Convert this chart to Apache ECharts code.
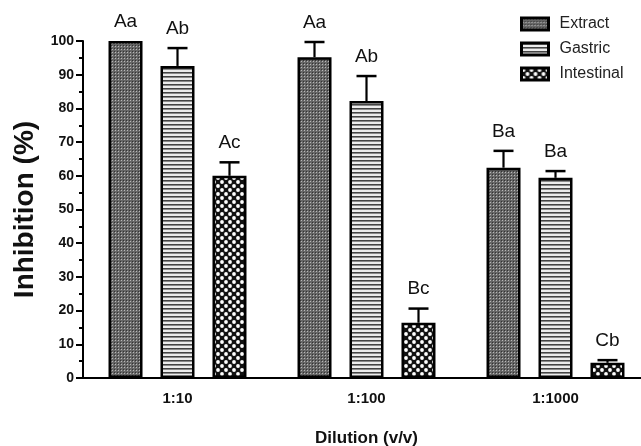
<!DOCTYPE html>
<html>
<head>
<meta charset="utf-8">
<script src="https://cdn.jsdelivr.net/npm/echarts@6/dist/echarts.min.js"></script>
<style>html,body{margin:0;padding:0;background:#fff}#c{width:641px;height:446px}</style>
</head>
<body>
<div id="c"></div>
<script>
const categories = ['1:10', '1:100', '1:1000'];
const seriesNames = ['Extract', 'Gastric', 'Intestinal'];
const extractValues = [100, 95.2, 62.4];
const extractErrors = [0, 4.5, 5.0];
const extractLetters = ['Aa', 'Aa', 'Ba'];
const gastricValues = [92.6, 82.2, 59.4];
const gastricErrors = [5.3, 7.4, 2.0];
const gastricLetters = ['Ab', 'Ab', 'Ba'];
const intestinalValues = [60.0, 16.4, 4.5];
const intestinalErrors = [4.0, 4.2, 0.8];
const intestinalLetters = ['Ac', 'Bc', 'Cb'];
const yTicks = [0, 10, 20, 30, 40, 50, 60, 70, 80, 90, 100];

function pattern(w, h, draw) {
  const c = document.createElement('canvas');
  c.width = w; c.height = h;
  draw(c.getContext('2d'));
  return { image: c, repeat: 'repeat' };
}
const extractFill = pattern(3, 3, ctx => {
  ctx.fillStyle = '#666'; ctx.fillRect(0, 0, 3, 3);
  ctx.fillStyle = '#b8b8b8'; ctx.fillRect(1, 1, 1, 1);
  ctx.fillStyle = '#333'; ctx.fillRect(0, 0, 1, 1);
});
const gastricFill = pattern(4, 4, ctx => {
  ctx.fillStyle = '#ececec'; ctx.fillRect(0, 0, 4, 4);
  ctx.fillStyle = '#444'; ctx.fillRect(0, 0, 4, 1);
  ctx.fillStyle = '#8a8a8a'; ctx.fillRect(0, 1, 4, 1);
});
const intestinalFill = pattern(8, 8, ctx => {
  ctx.fillStyle = '#111'; ctx.fillRect(0, 0, 8, 8);
  ctx.fillStyle = '#fff';
  ctx.beginPath(); ctx.arc(2, 2, 1.9, 0, Math.PI * 2); ctx.fill();
  ctx.beginPath(); ctx.arc(6, 6, 1.9, 0, Math.PI * 2); ctx.fill();
});

const fills = [extractFill, gastricFill, intestinalFill];
const values = [extractValues, gastricValues, intestinalValues];
const errors = [extractErrors, gastricErrors, intestinalErrors];
const letters = [extractLetters, gastricLetters, intestinalLetters];

const BAR_W = 34, BAR_STEP = 52;
const FONT = '"Liberation Sans", Arial, sans-serif';

const series = [];
seriesNames.forEach((name, s) => {
  series.push({
    name: name,
    type: 'bar',
    data: values[s],
    barWidth: BAR_W,
    barGap: ((BAR_STEP / BAR_W - 1) * 100).toFixed(1) + '%',
    itemStyle: { color: fills[s], borderColor: '#000', borderWidth: 2.5 },
    emphasis: { disabled: true },
    z: 2
  });
});
seriesNames.forEach((name, s) => {
  series.push({
    type: 'custom',
    data: categories.map((c, i) => [i, values[s][i], errors[s][i], i]),
    z: 5,
    silent: true,
    renderItem: function (params, api) {
      const i = api.value(0), v = api.value(1), e = api.value(2);
      const base = api.coord([i, v]);
      const top = api.coord([i, v + e]);
      const x = base[0] + (s - 1) * BAR_STEP;
      const children = [];
      if (e > 0) {
        children.push({ type: 'line', shape: { x1: x, y1: base[1], x2: x, y2: top[1] }, style: { stroke: '#000', lineWidth: 2.2 } });
        children.push({ type: 'line', shape: { x1: x - 10, y1: top[1], x2: x + 10, y2: top[1] }, style: { stroke: '#000', lineWidth: 2.5 } });
      }
      children.push({
        type: 'text',
        style: {
          x: x, y: top[1] - 10,
          text: letters[s][api.value(3)],
          fill: '#111',
          font: '19px ' + FONT,
          align: 'center', verticalAlign: 'bottom'
        }
      });
      return { type: 'group', children: children };
    }
  });
});

const chart = echarts.init(document.getElementById('c'));
chart.setOption({
  animation: false,
  backgroundColor: '#fff',
  grid: { left: 83, top: 41, width: 567, bottom: 68, containLabel: false, outerBoundsMode: 'none' },
  legend: {
    data: seriesNames,
    orient: 'vertical',
    left: 520, top: 16,
    padding: 0,
    itemWidth: 27, itemHeight: 12, itemGap: 9,
    icon: 'rect',
    itemStyle: { borderWidth: 3, borderColor: '#000' },
    textStyle: { fontSize: 16, color: '#222', fontFamily: FONT, padding: [0, 0, 0, 6] },
    selectedMode: false
  },
  xAxis: {
    type: 'category',
    data: categories,
    axisLine: { lineStyle: { color: '#000', width: 2 } },
    axisTick: { alignWithLabel: true, length: 6, lineStyle: { color: '#000', width: 2 } },
    axisLabel: { fontSize: 15, fontWeight: 'bold', color: '#111', margin: 13, fontFamily: FONT },
    name: 'Dilution (v/v)',
    nameLocation: 'middle',
    nameGap: 52,
    nameTextStyle: { fontSize: 17, fontWeight: 'bold', color: '#111', fontFamily: FONT }
  },
  yAxis: {
    type: 'value',
    min: yTicks[0], max: yTicks[yTicks.length - 1], interval: yTicks[1] - yTicks[0],
    axisLine: { show: true, lineStyle: { color: '#000', width: 2 } },
    axisTick: { show: true, length: 7, lineStyle: { color: '#000', width: 2 } },
    minorTick: { show: true, splitNumber: 2, length: 4, lineStyle: { color: '#000', width: 2 } },
    splitLine: { show: false },
    axisLabel: {
      fontSize: 14, fontWeight: 'bold', color: '#111', margin: 9,
      fontFamily: FONT
    },
    name: 'Inhibition (%)',
    nameLocation: 'middle',
    nameGap: 44,
    nameTextStyle: { fontSize: 28, fontWeight: 'bold', color: '#111', fontFamily: FONT }
  },
  series: series
});
</script>
</body>
</html>
